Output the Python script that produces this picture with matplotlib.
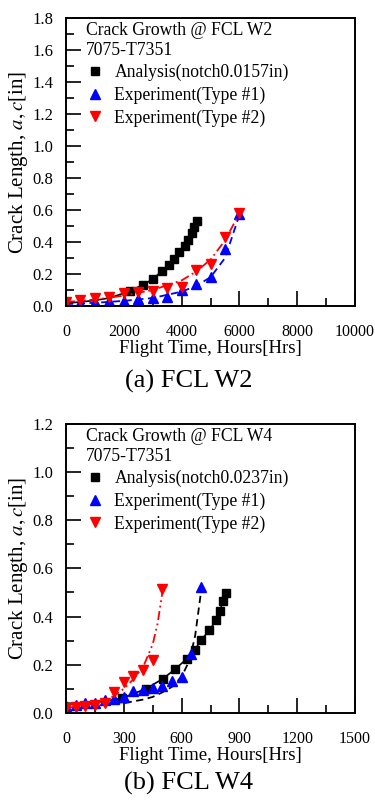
import numpy as np
import matplotlib
matplotlib.use("Agg")
import matplotlib.pyplot as plt
from matplotlib.lines import Line2D
from matplotlib.ticker import MultipleLocator

plt.rcParams['font.family'] = ['Liberation Serif', 'DejaVu Serif']
plt.rcParams['mathtext.fontset'] = 'stix'

# ---- (a) FCL W2 ----
w2_ana_t = [0, 500, 1000, 1500, 2000, 2210, 2680, 3020, 3310, 3560, 3750, 3920, 4120, 4230, 4350, 4440, 4540]
w2_ana_a = [0.018, 0.025, 0.035, 0.05, 0.08, 0.096, 0.133, 0.171, 0.217, 0.254, 0.294, 0.340, 0.377, 0.415, 0.454, 0.496, 0.533]
w2_ana_first_marker = 5

w2_exp1_t = [0, 500, 1000, 1500, 2000, 2500, 3000, 3500, 4000, 4500, 5000, 5500, 6000]
w2_exp1_a = [0.012, 0.017, 0.027, 0.029, 0.033, 0.042, 0.05, 0.058, 0.10, 0.137, 0.183, 0.356, 0.573]
w2_fit1_t = [0, 1000, 2000, 3000, 4000, 4500, 5000, 5500, 6000]
w2_fit1_a = [0.012, 0.02, 0.032, 0.05, 0.09, 0.125, 0.18, 0.30, 0.57]

w2_exp2_t = [0, 500, 1000, 1500, 2000, 2500, 3000, 3500, 4000, 4500, 5000, 5500, 6000]
w2_exp2_a = [0.028, 0.037, 0.048, 0.058, 0.079, 0.085, 0.096, 0.11, 0.121, 0.225, 0.262, 0.433, 0.58]
w2_fit2_t = [0, 1000, 2000, 3000, 3500, 4000, 4500, 5000, 5500, 6000]
w2_fit2_a = [0.025, 0.04, 0.065, 0.10, 0.13, 0.16, 0.215, 0.29, 0.41, 0.58]

# ---- (b) FCL W4 ----
w4_ana_t = [0, 100, 200, 289, 415, 502, 566, 626, 669, 702, 744, 777, 799, 813, 829]
w4_ana_a = [0.035, 0.038, 0.048, 0.060, 0.10, 0.141, 0.181, 0.224, 0.262, 0.304, 0.342, 0.384, 0.422, 0.463, 0.499]
w4_ana_first_marker = 3

w4_exp1_t = [0, 50, 100, 150, 200, 250, 300, 350, 400, 450, 500, 550, 600, 650, 700]
w4_exp1_a = [0.028, 0.032, 0.039, 0.041, 0.053, 0.058, 0.066, 0.09, 0.094, 0.104, 0.11, 0.131, 0.149, 0.246, 0.521]
w4_fit1_t = [0, 100, 200, 300, 400, 450, 500, 550, 600, 630, 650, 670, 700]
w4_fit1_a = [0.04, 0.037, 0.037, 0.04, 0.055, 0.066, 0.085, 0.108, 0.15, 0.20, 0.25, 0.32, 0.50]

w4_exp2_t = [0, 50, 100, 150, 200, 250, 300, 350, 400, 450, 500]
w4_exp2_a = [0.022, 0.025, 0.028, 0.033, 0.041, 0.087, 0.126, 0.153, 0.177, 0.218, 0.515]
w4_fit2_t = [0, 100, 200, 250, 300, 350, 400, 450, 475, 500]
w4_fit2_a = [0.02, 0.03, 0.05, 0.07, 0.10, 0.14, 0.19, 0.285, 0.37, 0.50]

fig = plt.figure(figsize=(3.75, 8), dpi=100)
ax1 = fig.add_axes([0.176, 0.6175, 0.771, 0.36])
ax2 = fig.add_axes([0.176, 0.109, 0.771, 0.361])


def dibujar(ax, ana_t, ana_a, first, e1_t, e1_a, f1_t, f1_a, e2_t, e2_a, f2_t, f2_a,
            fit1_color, titulo, notch, xmax, xmaj, ymax):
    ax.plot(ana_t, ana_a, color='black', lw=1.2)
    ax.plot(ana_t[first:], ana_a[first:], 's', color='black', ms=6, ls='none')
    ax.plot(f1_t, f1_a, color=fit1_color, lw=1.3, ls=(0, (4, 2.5)))
    ax.plot(e1_t, e1_a, '^', color='blue', ms=7.5, ls='none')
    ax.plot(f2_t, f2_a, color='red', lw=1.3, ls=(0, (5, 2, 1, 2, 1, 2)))
    ax.plot(e2_t, e2_a, 'v', color='red', ms=7.5, ls='none')

    ax.set_xlim(0, xmax)
    ax.set_ylim(0, ymax)
    ax.xaxis.set_major_locator(MultipleLocator(xmaj))
    ax.xaxis.set_minor_locator(MultipleLocator(xmaj / 2))
    ax.yaxis.set_major_locator(MultipleLocator(0.2))
    ax.yaxis.set_minor_locator(MultipleLocator(0.1))
    ax.yaxis.set_major_formatter(plt.FormatStrFormatter('%.1f'))
    ax.tick_params(which='major', direction='in', length=11, width=1.2)
    ax.tick_params(which='minor', direction='in', length=6, width=1.2)
    ax.tick_params(axis='x', which='both', pad=13, labelsize=11.5)
    ax.tick_params(axis='y', which='both', pad=9, labelsize=12)
    for s in ax.spines.values():
        s.set_linewidth(1.4)

    ax.set_xlabel('Flight Time, Hours[Hrs]', fontsize=13.5, labelpad=0)
    ax.set_ylabel('Crack Length, $\\mathit{a,c}$[in]', fontsize=15, labelpad=2)

    handles = [
        Line2D([], [], marker='s', color='black', ls='none', ms=6),
        Line2D([], [], marker='^', color='blue', ls='none', ms=7.5),
        Line2D([], [], marker='v', color='red', ls='none', ms=7.5),
    ]
    labels = ['Analysis(notch%sin)' % notch, 'Experiment(Type #1)', 'Experiment(Type #2)']
    ax.legend(handles, labels, title=titulo + '\n7075-T7351', loc='upper left',
              bbox_to_anchor=(14 / 289, 1 + 2 / 288),
              frameon=False, fontsize=12.7, title_fontsize=12.7, alignment='left',
              handlelength=1.0, handletextpad=0.6, labelspacing=0.3,
              borderaxespad=0.15, borderpad=0.2)


dibujar(ax1, w2_ana_t, w2_ana_a, w2_ana_first_marker, w2_exp1_t, w2_exp1_a, w2_fit1_t, w2_fit1_a,
        w2_exp2_t, w2_exp2_a, w2_fit2_t, w2_fit2_a, 'blue', 'Crack Growth @ FCL W2', '0.0157',
        10000, 2000, 1.8)
dibujar(ax2, w4_ana_t, w4_ana_a, w4_ana_first_marker, w4_exp1_t, w4_exp1_a, w4_fit1_t, w4_fit1_a,
        w4_exp2_t, w4_exp2_a, w4_fit2_t, w4_fit2_a, 'black', 'Crack Growth @ FCL W4', '0.0237',
        1500, 300, 1.2)

fig.text(188.5 / 375, 1 - 381 / 800, '(a) FCL W2', ha='center', va='center', fontsize=19)
fig.text(188.5 / 375, 1 - 783 / 800, '(b) FCL W4', ha='center', va='center', fontsize=19)

fig.savefig('out.png', dpi=100)
